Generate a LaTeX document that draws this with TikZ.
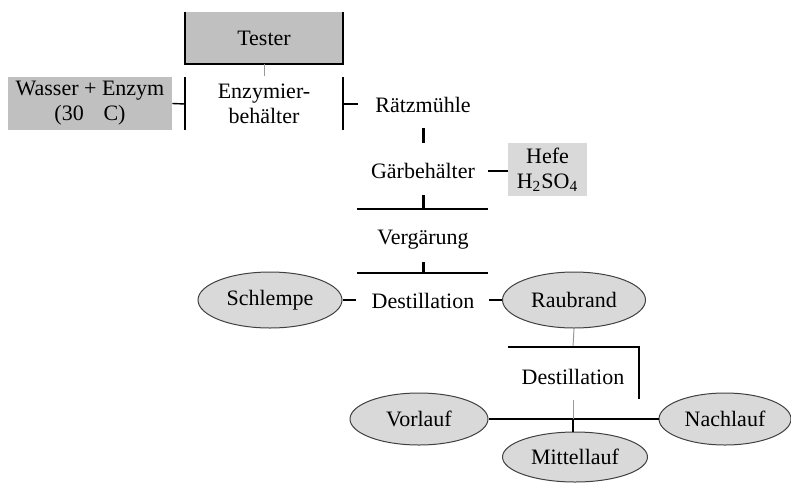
\documentclass[tikz,border=0pt]{standalone}
\usepackage{fontspec}
\setmainfont{Liberation Serif}
\usetikzlibrary{shapes.geometric}
\definecolor{boxgray}{HTML}{C0C0C0}
\definecolor{lightgray}{HTML}{D9D9D9}
\tikzset{
  lbl/.style={font=\fontsize{11pt}{12.5pt}\selectfont, align=center, inner sep=0pt},
  graybox/.style={lbl, fill=boxgray},
  lightbox/.style={lbl, fill=lightgray},
  oval/.style={lbl, ellipse, fill=lightgray, draw=black!75, line width=0.5pt},
  ln/.style={line width=0.7pt},
  bracket/.style={line width=1pt},
  stub/.style={line width=1.5pt},
  thin gray/.style={line width=0.5pt, draw=black!40},
}
\begin{document}
\begin{tikzpicture}[x=0.5pt, y=-0.5pt]
\useasboundingbox (0,0) rectangle (791,482);
% Tester
\node[graybox, minimum width=79pt, minimum height=26pt] (tester) at (264,38) {Tester};
\draw[bracket] (tester.north west) -- (tester.south west) -- (tester.south east) -- (tester.north east);
% Enzymierbehaelter
\node[lbl] (enz) at (264,104) {Enzymier-\\[0pt]behälter};
\coordinate (enzL1) at (185,77); \coordinate (enzL2) at (185,130);
\coordinate (enzR1) at (343,77); \coordinate (enzR2) at (343,130);
\coordinate (enzL) at (185,104); \coordinate (enzR) at (343,104);
\draw[bracket] (enzL1) -- (enzL2);
\draw[bracket] (enzR1) -- (enzR2);
\coordinate (tgap) at (264,76);
\draw[thin gray] (tester.south) -- (tgap);
% Wasser
\node[graybox, minimum width=82pt, minimum height=26.5pt] (wasser) at (90,103.5) {Wasser + Enzym\\(30\hspace{0.9em}C)};
\draw[ln] (wasser.east) -- (enzL);
% Raetzmuehle
\node[lbl] (raetz) at (423,105) {Rätzmühle};
\coordinate (rz) at (358,104);
\draw[ln] (enzR) -- (rz);
\coordinate (s1a) at (423,128); \coordinate (s1b) at (423,143);
\draw[stub] (s1a) -- (s1b);
% Gaerbehaelter
\node[lbl] (gaer) at (423,171) {Gärbehälter};
\node[lightbox, minimum width=39.5pt, minimum height=26.5pt] (hefe) at (547.5,169.5) {Hefe\\H\textsubscript{2}SO\textsubscript{4}};
\coordinate (gh) at (488,171);
\draw[ln] (gh) -- (hefe.west |- gh);
\coordinate (s2a) at (423,195); \coordinate (s2b) at (423,209);
\draw[stub] (s2a) -- (s2b);
\coordinate (h1a) at (357,209); \coordinate (h1b) at (488,209);
\draw[ln] (h1a) -- (h1b);
% Vergaerung
\node[lbl] (verg) at (423,240) {Vergärung};
\coordinate (s3a) at (423,262); \coordinate (s3b) at (423,273);
\draw[stub] (s3a) -- (s3b);
\coordinate (h2a) at (357,273); \coordinate (h2b) at (488,273);
\draw[ln] (h2a) -- (h2b);
% Destillation 1
\node[lbl] (dest1) at (423,301) {Destillation};
\node[oval, minimum width=72pt, minimum height=28pt] (schlempe) at (270,300) {Schlempe};
\node[oval, minimum width=71.5pt, minimum height=28pt] (raubrand) at (574,300) {Raubrand};
\coordinate (d1l) at (356,300); \coordinate (d1r) at (489,300);
\draw[ln] (schlempe.east) -- (d1l);
\draw[ln] (d1r) -- (raubrand.west);
% Destillation 2
\coordinate (rb) at (573,347);
\draw[thin gray] (raubrand.south) -- (rb);
\coordinate (h3a) at (508,347); \coordinate (h3b) at (639,347); \coordinate (h3c) at (639,399);
\draw[ln] (h3a) -- (h3b) -- (h3c);
\node[lbl] (dest2) at (573,377) {Destillation};
\node[oval, minimum width=69pt, minimum height=26pt] (vorlauf) at (419,419) {Vorlauf};
\node[oval, minimum width=66pt, minimum height=26pt] (nachlauf) at (725,419) {Nachlauf};
\node[oval, minimum width=72.5pt, minimum height=25pt] (mittel) at (575,457) {Mittellauf};
\draw[ln] (vorlauf.east) -- (nachlauf.west);
\coordinate (m1) at (573,400); \coordinate (m2) at (573,419);
\draw[thin gray] (m1) -- (m2);
\draw[stub, line width=1.2pt] (m2) -- (m2 |- mittel.north);
\end{tikzpicture}
\end{document}
